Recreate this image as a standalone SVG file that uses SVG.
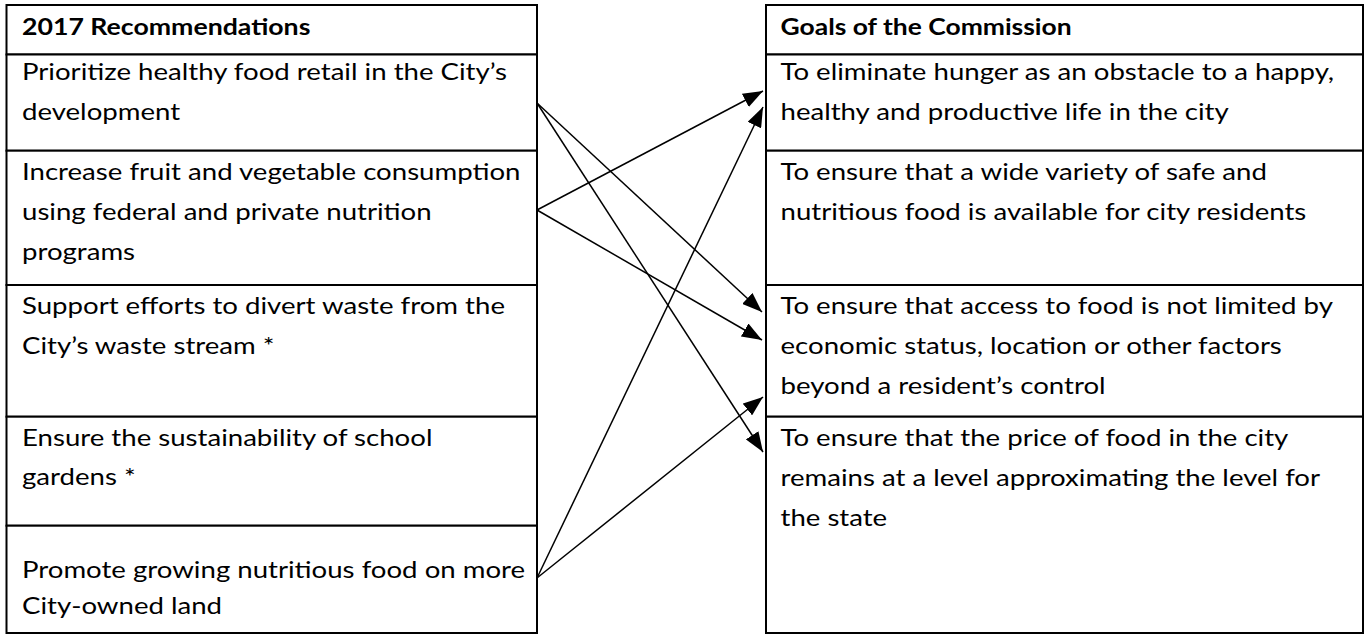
<svg xmlns="http://www.w3.org/2000/svg" width="1366" height="635" viewBox="0 0 1366 635">
<style>
.cell{fill:#fff;stroke:#000;stroke-width:2}
.t{font-family:Lato,"Liberation Sans",sans-serif;font-size:23px;fill:#000}
.b{font-weight:bold}
.c{stroke:#000;stroke-width:1.5;fill:none;marker-end:url(#ah)}
</style>
<defs>
<marker id="ah" markerUnits="userSpaceOnUse" markerWidth="20" markerHeight="15" refX="20" refY="7.5" orient="auto" viewBox="0 0 20 15">
<path d="M0,0 L20,7.5 L0,15 z" fill="#000"/>
</marker>
</defs>
<rect x="0" y="0" width="1366" height="635" fill="#fff"/>
<g id="left-header"><rect class="cell" x="6.5" y="5" width="530.5" height="49.5"/>
<text class="t b" transform="translate(22,35) scale(1.16,1)">2017 Recommendations</text></g>
<g id="left-r1"><rect class="cell" x="6.5" y="54.5" width="530.5" height="96.2"/>
<text class="t" transform="translate(22,80) scale(1.2,1)"><tspan x="0">Prioritize healthy food retail in the City’s</tspan><tspan x="0" dy="40">development</tspan></text></g>
<g id="left-r2"><rect class="cell" x="6.5" y="150.7" width="530.5" height="134.3"/>
<text class="t" transform="translate(22,180) scale(1.2,1)"><tspan x="0">Increase fruit and vegetable consumption</tspan><tspan x="0" dy="40">using federal and private nutrition</tspan><tspan x="0" dy="40">programs</tspan></text></g>
<g id="left-r3"><rect class="cell" x="6.5" y="285" width="530.5" height="131.7"/>
<text class="t" transform="translate(22,314) scale(1.2,1)"><tspan x="0">Support efforts to divert waste from the</tspan><tspan x="0" dy="40">City’s waste stream *</tspan></text></g>
<g id="left-r4"><rect class="cell" x="6.5" y="416.7" width="530.5" height="109"/>
<text class="t" transform="translate(22,446) scale(1.2,1)"><tspan x="0">Ensure the sustainability of school</tspan><tspan x="0" dy="39">gardens *</tspan></text></g>
<g id="left-r5"><rect class="cell" x="6.5" y="525.7" width="530.5" height="107.3"/>
<text class="t" transform="translate(22,578) scale(1.2,1)"><tspan x="0">Promote growing nutritious food on more</tspan><tspan x="0" dy="36">City-owned land</tspan></text></g>
<g id="right-header"><rect class="cell" x="766" y="5" width="597" height="49.5"/>
<text class="t b" transform="translate(780.5,35) scale(1.15,1)">Goals of the Commission</text></g>
<g id="right-r1"><rect class="cell" x="766" y="54.5" width="597" height="96.2"/>
<text class="t" transform="translate(780.5,80) scale(1.2,1)"><tspan x="0">To eliminate hunger as an obstacle to a happy,</tspan><tspan x="0" dy="40">healthy and productive life in the city</tspan></text></g>
<g id="right-r2"><rect class="cell" x="766" y="150.7" width="597" height="134.3"/>
<text class="t" transform="translate(780.5,180) scale(1.2,1)"><tspan x="0">To ensure that a wide variety of safe and</tspan><tspan x="0" dy="40">nutritious food is available for city residents</tspan></text></g>
<g id="right-r3"><rect class="cell" x="766" y="285" width="597" height="131.7"/>
<text class="t" transform="translate(780.5,314) scale(1.2,1)"><tspan x="0">To ensure that access to food is not limited by</tspan><tspan x="0" dy="40">economic status, location or other factors</tspan><tspan x="0" dy="40">beyond a resident’s control</tspan></text></g>
<g id="right-r4"><rect class="cell" x="766" y="416.7" width="597" height="216.3"/>
<text class="t" transform="translate(780.5,446) scale(1.2,1)"><tspan x="0">To ensure that the price of food in the city</tspan><tspan x="0" dy="40">remains at a level approximating the level for</tspan><tspan x="0" dy="40">the state</tspan></text></g>
<g id="connectors">
<line class="c" x1="537" y1="103" x2="762" y2="312"/>
<line class="c" x1="537" y1="103" x2="763" y2="452"/>
<line class="c" x1="537" y1="210" x2="763" y2="91"/>
<line class="c" x1="537" y1="210" x2="762" y2="340"/>
<line class="c" x1="537" y1="578" x2="763" y2="107"/>
<line class="c" x1="537" y1="578" x2="763" y2="397"/>
</g>
</svg>
